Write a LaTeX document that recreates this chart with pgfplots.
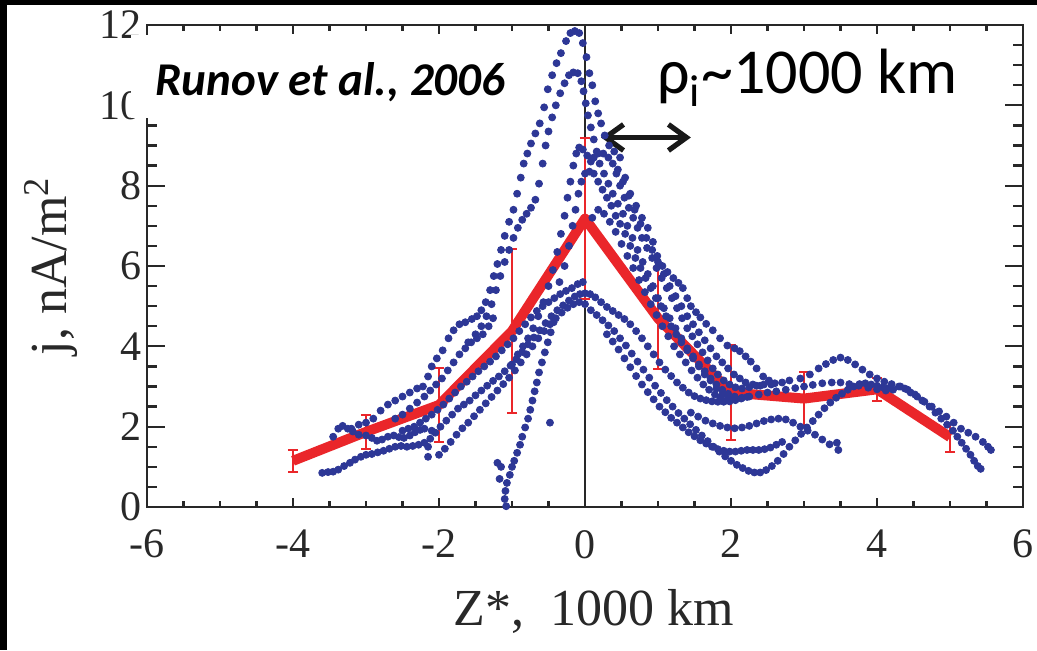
\documentclass[border=0pt]{standalone}
\usepackage{pgfplots}
\pgfplotsset{compat=1.18}
\usepackage{fontspec}
\setmainfont{Liberation Serif}
\newfontfamily\calibri{Carlito}
\usetikzlibrary{arrows.meta}
\definecolor{dotblue}{RGB}{45,55,150}
\definecolor{lred}{RGB}{234,38,42}
\definecolor{axgray}{RGB}{40,40,40}
\begin{document}
\begin{tikzpicture}[x=1pt,y=1pt]
\useasboundingbox (0,0) rectangle (518.5,325);
\fill[white] (0,0) rectangle (518.5,325);
\begin{axis}[
  at={(73.5pt,71.5pt)}, anchor=south west,
  width=438pt, height=241pt, scale only axis,
  xmin=-6, xmax=6, ymin=0, ymax=12,
  xtick={-6,-4,...,6}, ytick={0,2,...,12},
  xticklabels={-6,-4,-2,0,2,4,6},
  yticklabels={0,2,4,6,8,10,12},
  minor tick num=3,
  tick align=inside,
  axis line style={axgray, line width=1.2pt},
  every tick/.style={axgray, line width=1.1pt},
  major tick length=9pt, minor tick length=5pt,
  every major x tick/.append style={/pgfplots/major tick length=4.5pt},
  every minor x tick/.append style={/pgfplots/minor tick length=3pt},
  tick label style={font=\rmfamily\fontsize{21}{21}\selectfont, text=axgray},
  xticklabel style={yshift=-8pt},
  yticklabel style={xshift=1pt},
  xlabel={Z*,\enspace 1000 km},
  ylabel={j, nA/m\textsuperscript{2}},
  label style={font=\rmfamily\fontsize{26}{26}\selectfont, text=axgray},
  xlabel style={at={(axis description cs:0.51,-0.245)}, anchor=base},
  ylabel style={at={(axis description cs:-0.11,0.5)}, anchor=center},
]
% blue dots
\addplot[only marks, mark=*, mark size=1.75pt, color=dotblue, mark options={draw=none, fill=dotblue}] coordinates {
(-3.2,1.95) (-3.1,2.05) (-3.0,2.1) (-2.9,2.2) (-2.8,2.4) (-2.7,2.55) (-2.6,2.65) (-2.5,2.75) (-2.4,2.85) (-2.3,2.95) (-2.22,3.0) (-2.15,3.25) (-2.1,3.5) (-2.03,3.7) (-1.95,3.9) (-1.87,4.2) (-1.8,4.4) (-1.72,4.55) (-1.64,4.6) (-1.55,4.68) (-1.48,4.75) (-1.42,4.9) (-1.36,5.1) (-1.3,5.4) (-1.25,5.75) (-1.2,6.05) (-1.15,6.4) (-1.1,6.75) (-1.04,7.1) (-0.98,7.4) (-0.93,7.8) (-0.88,8.2) (-0.84,8.55) (-0.79,8.8) (-0.74,9.05) (-0.68,9.3) (-0.62,9.55) (-0.56,9.95) (-0.51,10.4) (-0.45,10.75) (-0.39,11.05) (-0.33,11.3) (-0.26,11.6) (-0.2,11.8) (-0.14,11.85) (-0.08,11.8) (-0.03,11.55) (0.02,11.2) (0.06,10.8) (0.1,10.5) (0.14,10.1) (0.18,9.8) (0.22,9.55) (0.27,9.25) (0.33,9.0) (0.4,8.85) (0.48,8.7) (0.55,8.2) (0.62,7.8) (0.7,7.5) (0.78,7.2) (0.86,6.95) (0.93,6.6) (0.99,6.25) (1.06,6.0) (1.13,5.85) (1.21,5.7) (1.28,5.58) (1.34,5.45) (1.4,5.2) (1.45,5.0) (1.52,4.85) (1.58,4.72) (1.66,4.56) (1.75,4.4) (1.85,4.2) (1.95,4.02) (2.05,3.95) (2.12,3.88) (2.2,3.75) (2.27,3.62) (2.35,3.45) (2.44,3.25) (2.52,3.15) (2.6,3.08) (2.7,3.1) (2.8,3.15) (2.95,3.2) (3.08,3.3) (3.2,3.45) (3.3,3.56) (3.4,3.66) (3.5,3.72) (3.6,3.66) (3.7,3.55) (3.8,3.42) (3.9,3.3) (4.0,3.2) (4.1,3.12) (4.2,3.06) (4.3,3.0) (4.38,2.95) (4.46,2.85) (4.55,2.75) (4.65,2.62) (4.75,2.5) (4.85,2.38) (4.95,2.25) (5.05,2.1) (5.15,1.95) (5.25,1.85) (5.35,1.75) (5.45,1.62) (5.52,1.5) (5.56,1.42)
(-1.6,4.1) (-1.5,4.3) (-1.42,4.5) (-1.35,4.75) (-1.28,5.05) (-1.22,5.4) (-1.16,5.75) (-1.1,6.1) (-1.04,6.4) (-0.98,6.7) (-0.92,6.95) (-0.86,7.15) (-0.8,7.3) (-0.74,7.45) (-0.68,7.65) (-0.63,8.05) (-0.58,8.55) (-0.54,9.0) (-0.5,9.35) (-0.45,9.7) (-0.4,10.0) (-0.34,10.3) (-0.28,10.55) (-0.22,10.75) (-0.16,10.82) (-0.1,10.8) (-0.05,10.6) (-0.02,10.35) (0.01,10.05) (0.04,9.75) (0.08,9.45) (0.12,9.15) (0.16,8.85) (0.2,8.55) (0.26,8.3) (0.32,8.05) (0.38,7.8) (0.45,7.55) (0.52,7.3) (0.58,7.0) (0.65,6.7) (0.72,6.4) (0.79,6.1) (0.86,5.8) (0.93,5.5) (1.0,5.2) (1.08,4.95) (1.16,4.7) (1.24,4.45) (1.32,4.2) (1.4,3.95) (1.48,3.75) (1.56,3.55) (1.64,3.38) (1.72,3.2) (1.8,3.05) (1.88,2.92) (1.96,2.82) (2.05,2.75) (2.15,2.72) (2.25,2.75) (2.38,2.8) (2.5,2.85) (2.62,2.88) (2.75,2.92) (2.88,2.96) (3.0,3.0) (3.12,3.04) (3.25,3.08) (3.38,3.1) (3.5,3.1) (3.62,3.06) (3.75,3.02) (3.88,2.97) (4.0,2.93) (4.12,2.9) (4.22,2.92) (4.32,3.0) (4.42,2.92) (4.52,2.8) (4.62,2.65) (4.72,2.5) (4.8,2.35) (4.88,2.2) (4.96,2.05) (5.04,1.9) (5.1,1.75) (5.16,1.6) (5.22,1.45) (5.28,1.3) (5.33,1.15) (5.38,1.02) (5.42,0.95)
(-1.0,3.55) (-0.92,3.8) (-0.85,4.0) (-0.78,4.2) (-0.71,4.45) (-0.64,4.75) (-0.57,5.1) (-0.5,5.5) (-0.44,5.9) (-0.38,6.35) (-0.33,6.8) (-0.28,7.25) (-0.24,7.7) (-0.2,8.1) (-0.16,8.5) (-0.12,8.8) (-0.08,8.95) (-0.03,8.9) (0.03,8.75) (0.08,8.6) (0.12,8.7) (0.18,8.8) (0.25,8.8) (0.32,8.7) (0.38,8.55) (0.43,8.3) (0.48,8.0) (0.54,7.7) (0.6,7.45) (0.66,7.2) (0.72,6.95) (0.78,6.7) (0.85,6.45) (0.92,6.2) (0.98,5.95) (1.05,5.7) (1.12,5.45) (1.19,5.2) (1.26,4.95) (1.33,4.7) (1.4,4.45) (1.47,4.25) (1.54,4.05) (1.61,3.85) (1.68,3.65) (1.75,3.45) (1.82,3.3) (1.9,3.15) (1.98,3.05) (2.06,2.98) (2.15,2.95) (2.25,2.98) (2.35,3.02) (2.45,3.05) (2.55,3.05)
(-0.35,5.6) (-0.28,6.0) (-0.22,6.5) (-0.17,7.0) (-0.13,7.4) (-0.09,7.8) (-0.05,8.1) (0.0,8.3) (0.06,8.35) (0.12,8.3) (0.18,8.1) (0.24,7.9) (0.3,7.7) (0.36,7.5) (0.42,7.25) (0.48,7.05) (0.55,6.8) (0.62,6.5) (0.69,6.2) (0.76,5.95) (0.83,5.7) (0.9,5.45) (0.97,5.2) (1.04,5.0) (1.11,4.75) (1.18,4.5) (1.25,4.3) (1.32,4.1) (1.4,3.9) (1.48,3.7) (1.56,3.5) (1.64,3.3) (1.72,3.15) (1.8,2.95) (1.88,2.8) (1.96,2.7)
(-3.6,0.85) (-3.52,0.87) (-3.45,0.88) (-3.38,0.93) (-3.3,1.02) (-3.22,1.1) (-3.15,1.18) (-3.07,1.25) (-3.0,1.3) (-2.92,1.32) (-2.84,1.36) (-2.76,1.4) (-2.68,1.45) (-2.6,1.5) (-2.52,1.52) (-2.44,1.5) (-2.36,1.52) (-2.28,1.55) (-2.2,1.6) (-2.12,1.7) (-2.05,1.85) (-1.98,2.0) (-1.9,2.15) (-1.82,2.3) (-1.74,2.45) (-1.66,2.55) (-1.58,2.65) (-1.5,2.78) (-1.42,2.9) (-1.34,3.02) (-1.26,3.14) (-1.18,3.25) (-1.1,3.38) (-1.02,3.52) (-0.94,3.68) (-0.86,3.86) (-0.78,4.05) (-0.7,4.22) (-0.62,4.4) (-0.54,4.58) (-0.46,4.75) (-0.38,4.9) (-0.3,5.02) (-0.22,5.14) (-0.14,5.24) (-0.07,5.3) (0.0,5.32) (0.07,5.3) (0.14,5.22) (0.22,5.1) (0.3,4.98) (0.38,4.88) (0.46,4.78) (0.54,4.68) (0.62,4.55) (0.7,4.38) (0.78,4.2) (0.86,4.0) (0.94,3.8) (1.02,3.6) (1.1,3.42) (1.18,3.26) (1.26,3.1) (1.34,2.97) (1.42,2.85) (1.5,2.76) (1.58,2.7) (1.66,2.66) (1.74,2.63) (1.82,2.62) (1.9,2.62) (1.98,2.63) (2.06,2.66) (2.14,2.7) (2.22,2.74)
(-2.0,1.3) (-1.92,1.45) (-1.84,1.62) (-1.76,1.8) (-1.68,1.96) (-1.6,2.1) (-1.52,2.26) (-1.44,2.42) (-1.36,2.58) (-1.28,2.74) (-1.2,2.9) (-1.12,3.06) (-1.04,3.22) (-0.96,3.4) (-0.88,3.6) (-0.8,3.8) (-0.72,4.0) (-0.64,4.2) (-0.56,4.38) (-0.48,4.55) (-0.4,4.7) (-0.32,4.84) (-0.24,4.96) (-0.16,5.05) (-0.08,5.1) (0.0,5.05) (0.08,4.9) (0.16,4.78) (0.24,4.65) (0.32,4.52) (0.4,4.38) (0.48,4.2) (0.56,4.02) (0.64,3.82) (0.72,3.62) (0.8,3.42) (0.88,3.22) (0.96,3.02) (1.04,2.84) (1.12,2.66) (1.2,2.5) (1.28,2.34) (1.36,2.2) (1.44,2.06) (1.52,1.92) (1.6,1.78) (1.68,1.64) (1.76,1.5) (1.84,1.38) (1.92,1.26) (2.0,1.15) (2.08,1.05) (2.16,0.97) (2.24,0.9) (2.32,0.86) (2.4,0.86) (2.48,0.92) (2.56,1.02) (2.64,1.15) (2.72,1.32) (2.8,1.5) (2.88,1.66) (2.96,1.82) (3.04,1.98) (3.12,2.14) (3.2,2.3) (3.28,2.46) (3.36,2.6) (3.44,2.72) (3.52,2.82) (3.6,2.92) (3.68,3.0) (3.76,3.06) (3.84,3.08) (3.92,3.05) (4.0,3.02) (4.08,2.98) (4.16,2.96)
(0.3,4.3) (0.38,4.12) (0.46,3.92) (0.54,3.7) (0.62,3.48) (0.7,3.26) (0.78,3.05) (0.86,2.86) (0.94,2.68) (1.02,2.5) (1.1,2.36) (1.18,2.22) (1.26,2.1) (1.34,1.98) (1.42,1.86) (1.5,1.76) (1.58,1.66) (1.66,1.58) (1.74,1.5) (1.82,1.44) (1.9,1.4) (1.98,1.38) (2.06,1.38) (2.14,1.4) (2.22,1.42) (2.3,1.42) (2.38,1.42) (2.46,1.44) (2.54,1.48) (2.62,1.55) (2.7,1.62)
(1.45,2.35) (1.55,2.25) (1.65,2.15) (1.75,2.08) (1.85,2.02) (1.95,1.98) (2.05,1.96) (2.15,1.98) (2.25,2.02) (2.35,2.08) (2.45,2.14) (2.55,2.18) (2.65,2.2) (2.75,2.18) (2.85,2.1) (2.95,2.0) (3.05,1.9) (3.15,1.8) (3.25,1.68) (3.35,1.56) (3.45,1.6) (3.47,1.42)
(-3.45,1.75) (-3.38,1.95) (-3.32,2.02) (-3.25,1.95) (-3.18,1.88) (-3.1,1.8) (-3.0,1.78) (-2.92,1.72) (-2.85,1.65) (-2.78,1.68) (-2.7,1.75) (-2.62,1.78) (-2.55,1.74) (-2.48,1.72) (-2.4,1.78) (-2.33,1.86) (-2.26,1.92) (-2.2,1.95) (-2.15,1.5) (-2.15,1.25) (-2.1,1.9)
(-1.08,0.02) (-1.1,0.2) (-1.09,0.4) (-1.07,0.6) (-1.03,0.8) (-1.0,1.0) (-0.97,1.15) (-0.93,1.35) (-0.89,1.55) (-0.86,1.75) (-0.82,1.98) (-0.78,2.2) (-0.75,2.42) (-0.72,2.65) (-0.69,2.88) (-0.66,3.1) (-0.63,3.35) (-0.59,3.6) (-0.55,3.85) (-0.51,4.1) (-0.47,4.35) (-0.43,4.6) (-1.17,0.7) (-1.2,1.1) (-1.15,1.0) (-0.48,2.1)
(-2.5,1.9) (-2.42,1.95) (-2.34,2.0) (-2.26,2.1) (-2.18,2.2) (-2.1,2.3) (-2.02,2.42) (-1.94,2.55) (-1.86,2.7) (-1.78,2.85) (-1.7,3.0) (-1.62,3.12) (-1.54,3.25) (-1.46,3.38) (-1.38,3.5) (-1.3,3.62) (-1.22,3.75) (-1.14,3.9) (-1.06,4.05) (-0.98,4.2) (-0.9,4.38) (-0.82,4.55) (-0.74,4.72) (-0.66,4.88) (-0.58,5.0) (-0.5,5.1) (-0.42,5.2) (-0.34,5.3) (-0.26,5.38) (-0.18,5.45) (-0.1,5.55) (-0.03,5.6)
(-2.6,2.2) (-2.5,2.3) (-2.4,2.45) (-2.3,2.6) (-2.2,2.75) (-2.12,2.9) (-2.04,3.05) (-1.96,3.2) (-1.88,3.4) (-1.8,3.6) (-1.72,3.8) (-1.64,3.95) (-1.56,4.1) (-1.48,4.2) (-1.4,4.3) (-1.32,4.5) (-1.26,4.7)
(0.1,7.2) (0.18,7.4) (0.26,7.3) (0.34,7.1) (0.42,6.85) (0.5,6.55) (0.58,6.25) (0.66,5.95) (0.74,5.65) (0.82,5.35) (0.9,5.05) (0.98,4.78) (1.06,4.5) (1.14,4.25) (1.22,4.0) (1.3,3.8) (1.38,3.6) (1.46,3.4) (1.54,3.22) (1.62,3.05) (1.7,2.92) (1.78,2.8) (1.86,2.72)
(0.45,8.4) (0.52,8.1) (0.6,7.75) (0.68,7.4) (0.76,7.05) (0.84,6.7) (0.92,6.4) (1.0,6.1) (1.08,5.8) (1.16,5.5) (1.24,5.25) (1.32,5.0) (1.4,4.75) (1.48,4.55) (1.56,4.35) (1.64,4.15) (1.72,3.95) (1.8,3.75) (1.88,3.6) (1.96,3.45) (2.04,3.3) (2.12,3.2) (2.2,3.1) (2.3,3.05) (2.4,3.02)
};
% vertical line at zero
\addplot[axgray, line width=1pt] coordinates {(0,0) (0,12)};
% mean profile
\addplot[lred, line width=5pt, line join=round] coordinates {
(-4,1.15) (-3,1.87) (-2,2.54) (-1,4.38) (0,7.18) (1,4.7) (2,2.85) (3,2.7) (4,2.93) (5,1.74)};
\addplot[lred, draw=none, mark=none, error bars/.cd, y dir=both, y explicit,
  error bar style={lred, line width=1pt},
  error mark options={lred, rotate=90, mark size=2.6pt, line width=1pt}] coordinates {
(-4,1.15) +- (0,0.27)
(-3,1.87) +- (0,0.42)
(-2,2.54) +- (0,0.93)
(-1,4.38) +- (0,2.04)
(0,7.18) +- (0,2.0)
(1,4.7) +- (0,1.27)
(2,2.85) +- (0,1.18)
(3,2.7) +- (0,0.67)
(4,2.93) +- (0,0.29)
(5,1.74) +- (0,0.36)};
\draw[black!90, line width=2.6pt, {Straight Barb[length=9pt,width=13pt]}-{Straight Barb[length=9pt,width=13pt]}] (axis cs:0.22,9.2) -- (axis cs:1.45,9.2);
\end{axis}
% white box behind the citation
\fill[white] (65.5,266) rectangle (257.5,307.5);
\node[anchor=base west, inner sep=0pt, font=\calibri\bfseries\itshape\fontsize{23.5}{23.5}\selectfont] at (77.5,277.5) {Runov et al., 2006};
\node[anchor=base west, inner sep=0pt, font=\calibri\fontsize{32}{32}\selectfont] at (328.5,278.5) {ρ\textsubscript{i}\textasciitilde 1000 km};
% black frame on top and left
\fill[black] (0,0) rectangle (3.5,325);
\fill[black] (0,322.5) rectangle (518.5,325);
\end{tikzpicture}
\end{document}
